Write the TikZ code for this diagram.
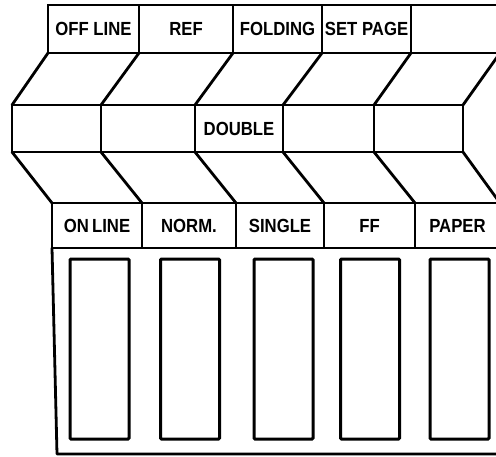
\documentclass[tikz,border=0pt]{standalone}
\usepackage{fontspec}
\setmainfont{Liberation Sans}[FakeStretch=0.88]
\begin{document}
\begin{tikzpicture}[
		x=1pt, y=-1pt,
		cell/.style={draw, rectangle, line width=2.8pt, outer sep=0pt, inner sep=0pt, font=\fontsize{19}{21}\selectfont\bfseries},
		slot/.style={draw, rectangle, line width=3pt, outer sep=0pt, inner sep=0pt, minimum width=59pt, minimum height=180pt, rounded corners=1pt},
		fold/.style={line width=2.8pt, line cap=round, line join=round},
	]
	\useasboundingbox (0,0) rectangle (496,456);

	% top row
	\node[cell, minimum width=91pt, minimum height=48pt] (t1) at (93.5,  29) {OFF LINE};
	\node[cell, minimum width=94pt, minimum height=48pt] (t2) at (186,   29) {REF};
	\node[cell, minimum width=89pt, minimum height=48pt] (t3) at (277.5, 29) {FOLDING};
	\node[cell, minimum width=89pt, minimum height=48pt] (t4) at (366.5, 29) {SET PAGE};
	\node[cell, minimum width=89pt, minimum height=48pt] (t5) at (455.5, 29) {};

	% middle row
	\node[cell, minimum width=89pt, minimum height=47pt] (m1) at (56.5,  128.5) {};
	\node[cell, minimum width=94pt, minimum height=47pt] (m2) at (148,   128.5) {};
	\node[cell, minimum width=88pt, minimum height=47pt] (m3) at (239,   128.5) {DOUBLE};
	\node[cell, minimum width=91pt, minimum height=47pt] (m4) at (328.5, 128.5) {};
	\node[cell, minimum width=89pt, minimum height=47pt] (m5) at (418.5, 128.5) {};

	% bottom row
	\node[cell, minimum width=90pt, minimum height=45pt] (o1) at (97,    225.5) {ON\,LINE};
	\node[cell, minimum width=94pt, minimum height=45pt] (o2) at (189,   225.5) {NORM.};
	\node[cell, minimum width=88pt, minimum height=45pt] (o3) at (280,   225.5) {SINGLE};
	\node[cell, minimum width=91pt, minimum height=45pt] (o4) at (369.5, 225.5) {FF};
	\node[cell, minimum width=85pt, minimum height=45pt] (o5) at (457.5, 225.5) {PAPER};

	% slots
	\node[slot] (s1) at (99.5,  349) {};
	\node[slot] (s2) at (190,   349) {};
	\node[slot] (s3) at (283.5, 349) {};
	\node[slot] (s4) at (370,   349) {};
	\node[slot] (s5) at (459.5, 349) {};

	% folds
	\draw[fold] (t1.south west) -- (m1.north west);
	\draw[fold] (t2.south west) -- (m2.north west);
	\draw[fold] (t3.south west) -- (m3.north west);
	\draw[fold] (t4.south west) -- (m4.north west);
	\draw[fold] (t5.south west) -- (m5.north west);
	\draw[fold] (t5.south east) -- (m5.north east);

	\draw[fold] (m1.south west) -- (o1.north west);
	\draw[fold] (m2.south west) -- (o2.north west);
	\draw[fold] (m3.south west) -- (o3.north west);
	\draw[fold] (m4.south west) -- (o4.north west);
	\draw[fold] (m5.south west) -- (o5.north west);
	\draw[fold] (m5.south east) -- (o5.north east);

	% panel
	\coordinate (pb) at (57, 454);
	\coordinate (pe) at (500, 454);
	\draw[fold] (o1.south west) -- (pb) -- (pe);
\end{tikzpicture}
\end{document}
